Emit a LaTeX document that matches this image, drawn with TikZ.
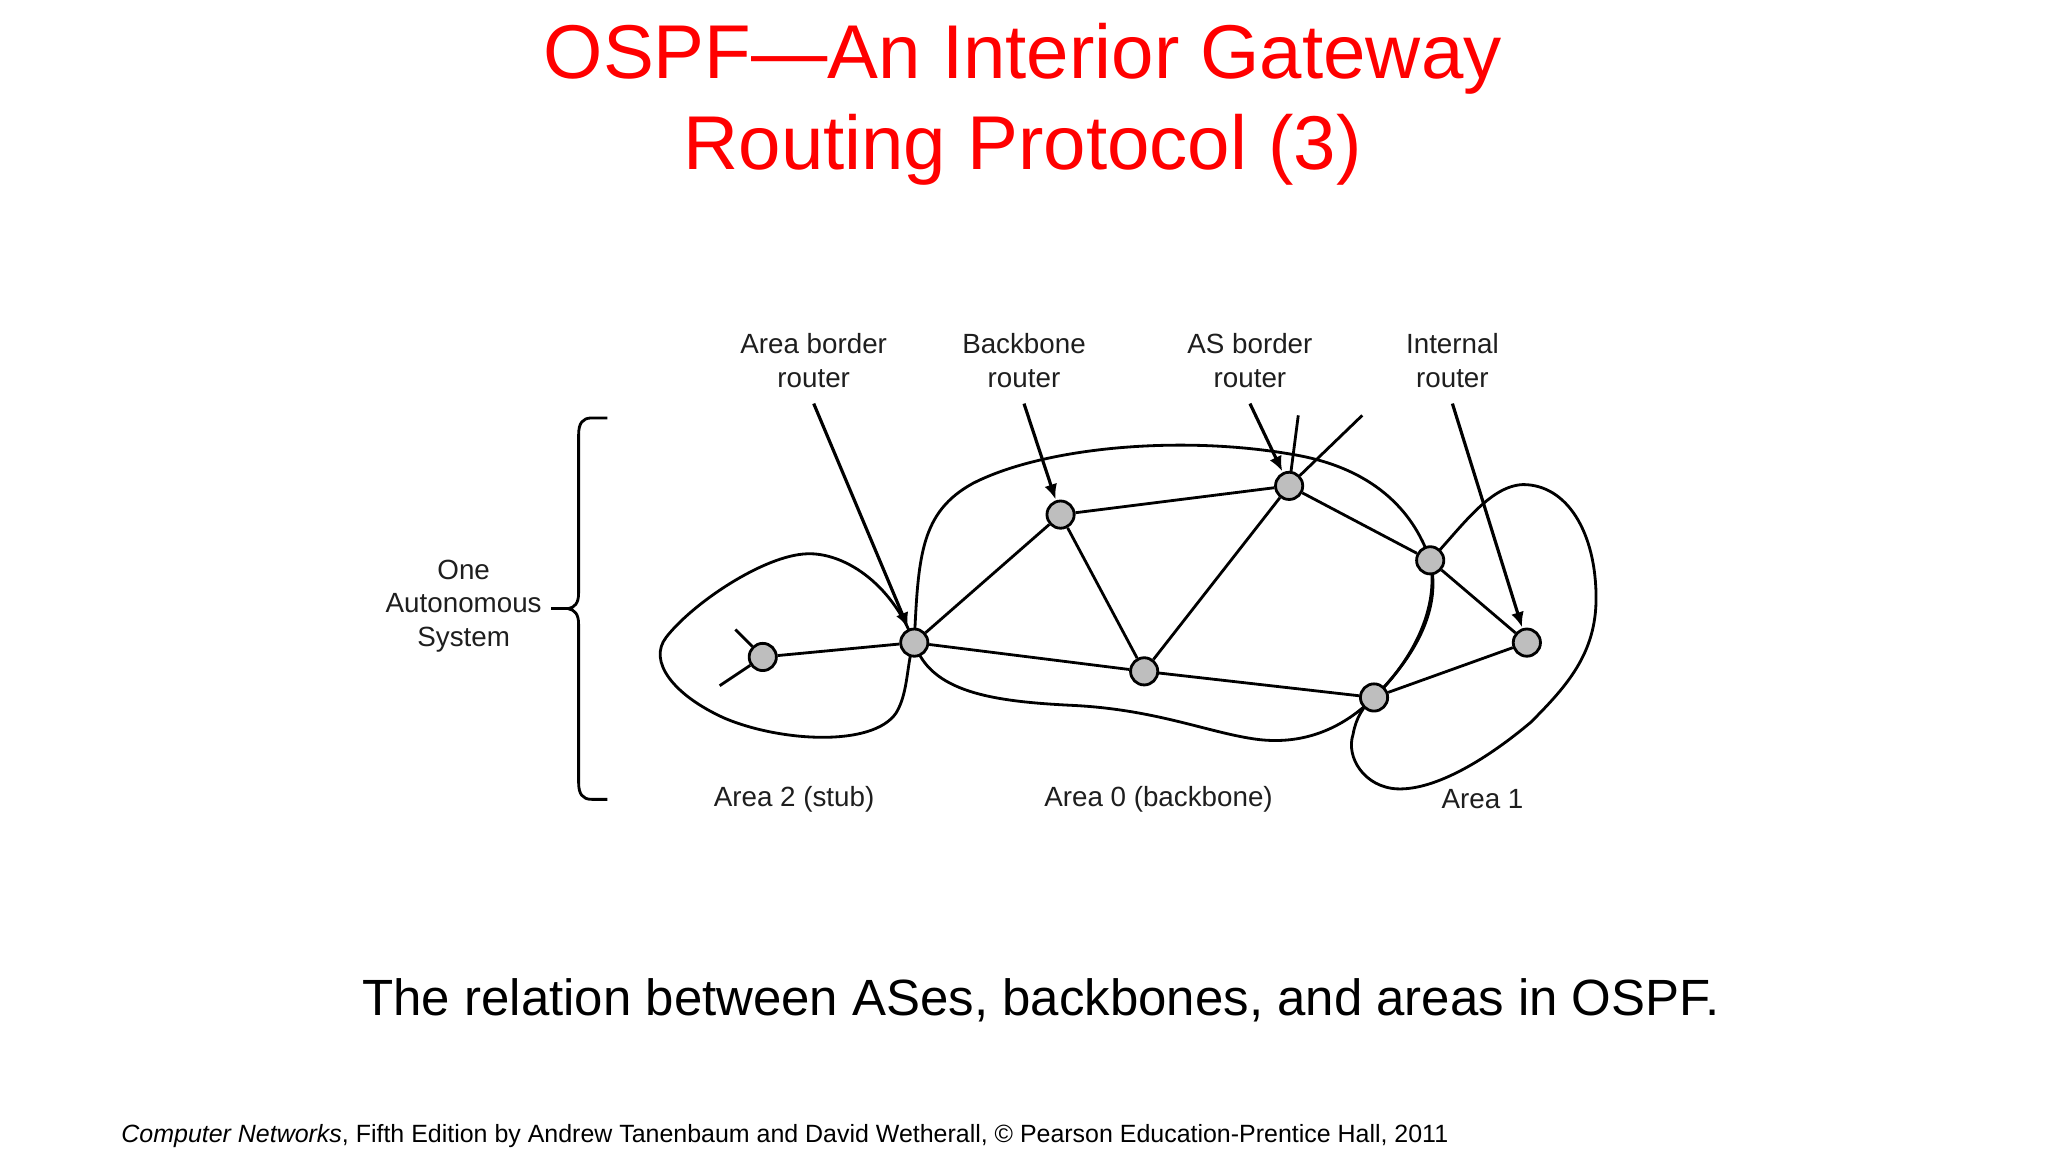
\documentclass[tikz,border=0pt]{standalone}
\usepackage{fontspec}
\setmainfont{Liberation Sans}
\usetikzlibrary{arrows.meta}
\definecolor{titlered}{HTML}{FF0000}
\definecolor{routergray}{HTML}{BEBEBE}
\definecolor{inkgray}{HTML}{1E1E1E}
\begin{document}
\begin{tikzpicture}[x=0.013061cm,y=-0.013061cm,
  line width=0.75pt,
  router/.style={circle,draw=black,fill=routergray,minimum size=0.272cm,inner sep=0pt,line width=0.8pt},
  link/.style={draw=black,line width=0.8pt},
  area/.style={draw=black,line width=0.8pt},
  pointer/.style={draw=black,line width=0.9pt,-{Latex[length=4.3pt,width=3.7pt]},shorten >=0.3pt},
  lbl/.style={font=\fontsize{7.9pt}{9.6pt}\selectfont,text=inkgray,align=center,inner sep=0pt},
  titletext/.style={font=\fontsize{21.7pt}{26pt}\selectfont,text=titlered,align=center,inner sep=0pt},
]
\path[use as bounding box,fill=white] (0,0) rectangle (1568,882);

% title
\node[titletext] (t1) at (783,45) {OSPF—An Interior Gateway};
\node[titletext] (t2) at (783,115) {Routing Protocol (3)};

% router positions
\coordinate (cstub) at (584,503);
\coordinate (cabr) at (700,492);
\coordinate (cbb) at (812,394);
\coordinate (casbr) at (987,372);
\coordinate (cr1) at (1095,429);
\coordinate (cbot) at (876,514);
\coordinate (cr2) at (1052,534);
\coordinate (cint) at (1169,492);

% area 2 boundary
\draw[area] (cabr) .. controls (682,445) and (645,423) .. (618,424)
  .. controls (585,425) and (530,462) .. (510,488)
  .. controls (496,506) and (515,532) .. (555,550)
  .. controls (598,568) and (668,572) .. (686,546)
  .. controls (696,530) and (694,505) .. (cabr);

% area 0 boundary
\draw[area] (cabr) .. controls (703,425) and (705,392) .. (745,370)
  .. controls (800,342) and (905,333) .. (990,348)
  .. controls (1050,358) and (1082,390) .. (cr1)
  .. controls (1102,465) and (1082,505) .. (cr2)
  .. controls (1030,556) and (1000,571) .. (962,566)
  .. controls (925,561) and (885,543) .. (820,540)
  .. controls (760,537) and (712,530) .. (cabr);

% area 1 boundary
\draw[area] (cr1) .. controls (1118,405) and (1140,372) .. (1166,371)
  .. controls (1200,371) and (1222,408) .. (1222,458)
  .. controls (1222,500) and (1200,525) .. (1172,553)
  .. controls (1140,580) and (1100,605) .. (1070,604)
  .. controls (1045,603) and (1030,580) .. (1036,562)
  .. controls (1038,550) and (1044,540) .. (cr2)
  .. controls (1078,508) and (1105,470) .. (cr1);

% external stubs
\coordinate (sA) at (563,482);
\coordinate (sB) at (551,525);
\coordinate (eA) at (994,318);
\coordinate (eB) at (1043,318);

% routers
\node[router] (stub) at (cstub) {};
\node[router] (abr) at (cabr) {};
\node[router] (bb) at (cbb) {};
\node[router] (asbr) at (casbr) {};
\node[router] (r1) at (cr1) {};
\node[router] (bot) at (cbot) {};
\node[router] (r2) at (cr2) {};
\node[router] (int) at (cint) {};

% links
\draw[link] (sA) -- (stub);
\draw[link] (stub) -- (sB);
\draw[link] (stub) -- (abr);
\draw[link] (abr) -- (bb);
\draw[link] (abr) -- (bot);
\draw[link] (bb) -- (asbr);
\draw[link] (bb) -- (bot);
\draw[link] (bot) -- (asbr);
\draw[link] (asbr) -- (r1);
\draw[link] (r1) -- (int);
\draw[link] (bot) -- (r2);
\draw[link] (r2) -- (int);
\draw[link] (asbr) -- (eA);
\draw[link] (asbr) -- (eB);

% labels
\node[lbl] (labr) at (623,276) {Area border\\router};
\node[lbl] (lbb) at (784,276) {Backbone\\router};
\node[lbl] (lasbr) at (957,276) {AS border\\router};
\node[lbl] (lint) at (1112,276) {Internal\\router};

\coordinate (pabr) at (623,309);
\coordinate (pbb) at (784,309);
\coordinate (pasbr) at (957,309);
\coordinate (pint) at (1112,309);
\draw[pointer] (pabr) -- (abr);
\draw[pointer] (pbb) -- (bb);
\draw[pointer] (pasbr) -- (asbr);
\draw[pointer] (pint) -- (int);

% area names
\node[lbl] (a2) at (608,612) {Area 2 (stub)};
\node[lbl] (a0) at (887,612) {Area 0 (backbone)};
\node[lbl] (a1) at (1135,612) {Area 1};

% brace
\node[lbl] (as) at (355,464) {One\\Autonomous\\System};
\coordinate (btip) at (435,466);
\draw[area] (465,320) -- (453,320) .. controls (446,320) and (443,324) .. (443,333)
  -- (443,454) .. controls (443,462) and (440,465) .. (btip)
  .. controls (440,467) and (443,470) .. (443,478)
  -- (443,599) .. controls (443,608) and (446,612) .. (453,612) -- (465,612);
\draw[area] (422,466) -- (btip);

% caption
\node[font=\fontsize{14.5pt}{17pt}\selectfont,inner sep=0pt] (cap) at (797,766) {The relation between ASes, backbones, and areas in OSPF.};

% footer
\node[font=\fontsize{7.1pt}{8.5pt}\selectfont,anchor=west,inner sep=0pt] (foot) at (92,870) {\textit{Computer Networks}, Fifth Edition by Andrew Tanenbaum and David Wetherall, © Pearson Education-Prentice Hall, 2011};
\end{tikzpicture}
\end{document}
